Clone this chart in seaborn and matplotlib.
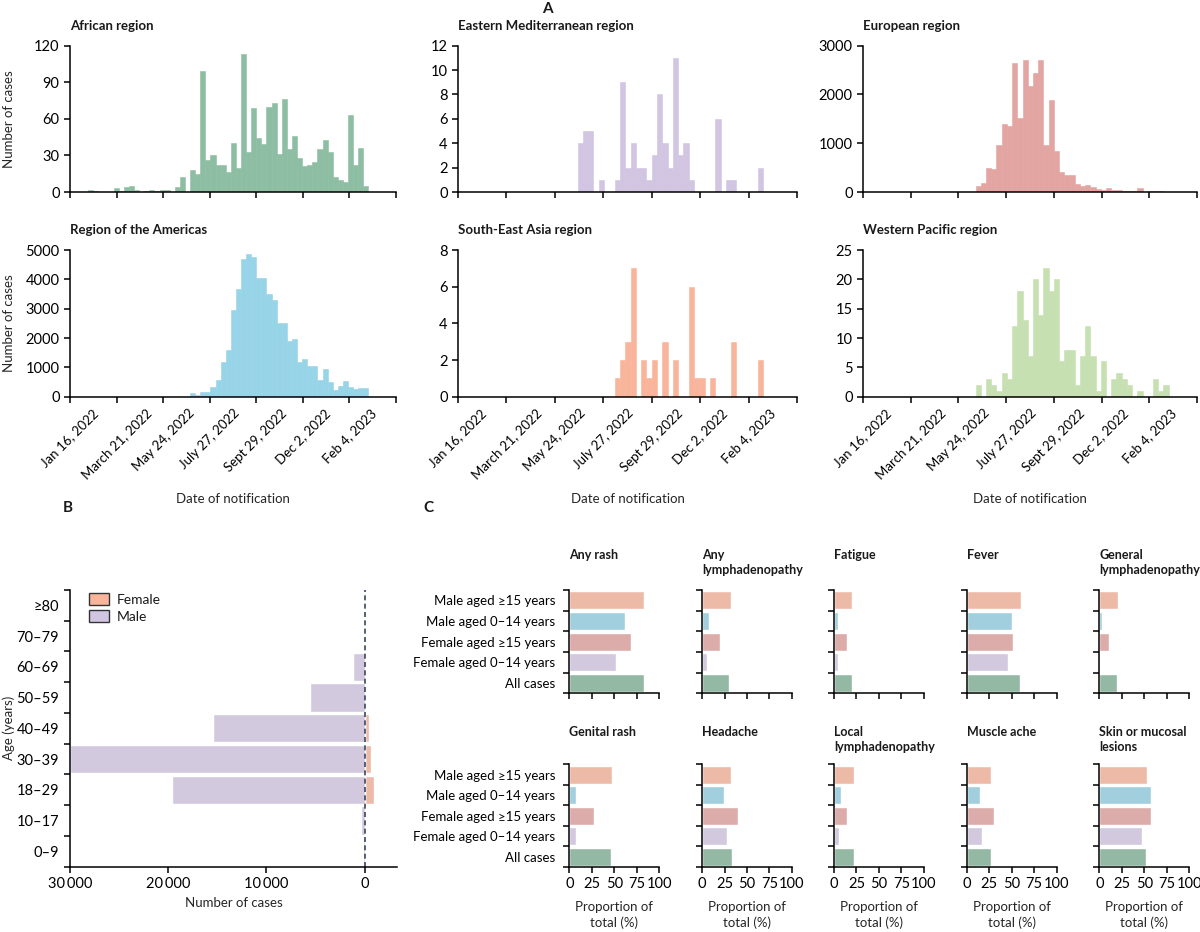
import numpy as np
import pandas as pd
import matplotlib
matplotlib.use('Agg')
import matplotlib.pyplot as plt
import matplotlib.dates as mdates
from matplotlib.patches import Patch
import seaborn as sns

# ---- panel A: weekly notifications per WHO region (week 0 starts 2022-01-20) ----
week0 = '2022-01-20'
african = [0, 0, 0, 2, 1, 0, 0, 0, 3, 1, 4, 5, 2, 0, 1, 2, 1, 2, 2, 0,
           4, 12, 0, 18, 15, 99, 26, 30, 22, 22, 16, 40, 20, 113, 33, 69, 44, 39, 70, 73,
           31, 76, 35, 46, 28, 21, 22, 25, 35, 43, 33, 12, 10, 8, 63, 22, 36, 5]
eastern_med = [0] * 22 + [4, 5, 5, 0, 1, 0, 0, 1, 9, 2, 4, 2, 2, 1, 3, 8, 4, 2,
                          11, 3, 4, 1, 0, 0, 0, 0, 6, 0, 1, 1, 0, 0, 0, 0, 2, 0]
european = [0] * 21 + [120, 185, 490, 470, 960, 1400, 1350, 2640, 1510, 2700, 2180, 2450,
                       2710, 960, 1880, 850, 400, 350, 340, 170, 115, 150, 95, 60, 48, 75,
                       40, 35, 27, 20, 14, 90, 7, 27, 20, 14, 7]
americas = [0] * 23 + [110, 70, 150, 170, 330, 560, 1170, 1590, 2965, 3660, 4680, 4875,
                       4750, 4030, 4030, 3490, 3280, 2510, 2510, 1910, 1980, 1170, 1270,
                       1045, 1045, 570, 930, 500, 240, 375, 520, 330, 270, 285, 300]
se_asia = [0] * 29 + [1, 2, 3, 7, 0, 2, 1, 2, 0, 3, 0, 2, 0, 0, 6, 1, 1, 0, 1, 0, 0,
                      0, 3, 0, 0, 0, 0, 2, 0]
w_pacific = [0] * 21 + [2, 0, 3, 2, 1, 4, 3, 12, 18, 13, 7, 20, 14, 22, 18, 20, 6, 8, 8,
                        2, 7, 12, 7, 1, 6, 0, 3, 4, 3, 2, 0, 1, 0, 0, 3, 1, 2]

region_names = ['African region', 'Eastern Mediterranean region', 'European region',
                'Region of the Americas', 'South-East Asia region', 'Western Pacific region']
region_yticks = [[0, 30, 60, 90, 120], [0, 2, 4, 6, 8, 10, 12], [0, 1000, 2000, 3000],
                 [0, 1000, 2000, 3000, 4000, 5000], [0, 2, 4, 6, 8], [0, 5, 10, 15, 20, 25]]
date_ticks = pd.date_range('2022-01-16', periods=8, freq='64D')
date_labels = ['Jan 16, 2022', 'March 21, 2022', 'May 24, 2022', 'July 27, 2022',
               'Sept 29, 2022', 'Dec 2, 2022', 'Feb 4, 2023', '']

# ---- panel B: age pyramid ----
ages = ['0–9', '10–17', '18–29', '30–39', '40–49', '50–59', '60–69', '70–79', '≥80']
male_cases = [170, 340, 19600, 30000, 15400, 5600, 1200, 100, 50]
female_cases = [170, 60, 950, 680, 400, 170, 50, 0, 0]

# ---- panel C: symptoms ----
groups = ['Male aged ≥15 years', 'Male aged 0–14 years', 'Female aged ≥15 years',
          'Female aged 0–14 years', 'All cases']
symptoms = ['Any rash', 'Any\nlymphadenopathy', 'Fatigue', 'Fever', 'General\nlymphadenopathy',
            'Genital rash', 'Headache', 'Local\nlymphadenopathy', 'Muscle ache',
            'Skin or mucosal\nlesions']
any_rash = [83, 62, 68, 51.5, 82.5]
any_lymph = [32, 8, 20.5, 5.5, 30.5]
fatigue = [20.5, 4.5, 14.5, 4, 20.5]
fever = [60, 50.5, 51.5, 45.5, 59.5]
general_lymph = [21, 2.5, 11, 1, 19.5]
genital_rash = [47.5, 7.5, 27, 7, 46.5]
headache = [32.5, 24.5, 40.5, 28, 33]
local_lymph = [22.5, 8, 15, 5.5, 22]
muscle_ache = [27, 14.5, 30, 17.5, 27]
skin_lesions = [52.5, 57, 57.5, 47, 52]
symptom_values = [any_rash, any_lymph, fatigue, fever, general_lymph,
                  genital_rash, headache, local_lymph, muscle_ache, skin_lesions]

green = '#8DBEA3'
lavender = '#D1C5E2'
rose = '#E3A5A2'
blue = '#97D4E8'
salmon = '#F9B59B'
lightgreen = '#C6E0B2'
region_colors = [green, lavender, rose, blue, salmon, lightgreen]
group_colors = [salmon, blue, rose, lavender, green]

sns.set_style('ticks')
plt.rcParams['font.family'] = ['Lato', 'DejaVu Sans']
plt.rcParams.update({'font.size': 9.5, 'axes.linewidth': 1.1,
                     'xtick.major.width': 1.1, 'ytick.major.width': 1.1,
                     'xtick.major.size': 4, 'ytick.major.size': 4,
                     'xtick.color': 'black', 'ytick.color': 'black',
                     'axes.edgecolor': 'black', 'text.color': '#1a1a1a'})
num_size = 10.5  # numeric tick labels look larger in the original

W, H = 1200, 932
fig = plt.figure(figsize=(12, 9.32), dpi=100)


def px_axes(left, top, right, bottom):
    return fig.add_axes([left / W, 1 - bottom / H, (right - left) / W, (bottom - top) / H])


def ftext(x, y, s, **kw):
    fig.text(x / W, 1 - y / H, s, **kw)


# panel A
col_x = [(70, 396), (458, 797), (863, 1197)]
row_y = [(45.7, 192), (250, 396.7)]
region_counts = [african, eastern_med, european, americas, se_asia, w_pacific]
x0 = mdates.date2num(pd.Timestamp('2022-01-16'))
x1 = mdates.date2num(pd.Timestamp('2023-04-09'))
for i, counts in enumerate(region_counts):
    r, c = divmod(i, 3)
    ax = px_axes(col_x[c][0], row_y[r][0], col_x[c][1], row_y[r][1])
    starts = mdates.date2num(pd.date_range(week0, periods=len(counts), freq='7D'))
    edges = [float(e) for e in np.append(starts, starts[-1] + 7)]
    week_df = pd.DataFrame({'day': starts + 3.5, 'cases': counts})
    sns.histplot(data=week_df, x='day', weights='cases', bins=edges, color=region_colors[i],
                 alpha=1, linewidth=0.4, edgecolor=region_colors[i], ax=ax)
    ax.set_xlim(x0, x1)
    ax.set_ylim(0, region_yticks[i][-1])
    ax.set_yticks(region_yticks[i])
    ax.tick_params(axis='y', labelsize=num_size)
    ax.set_xticks(mdates.date2num(date_ticks))
    if r == 1:
        ax.set_xticklabels(date_labels, rotation=45)
        ax.set_xlabel('Date of notification', labelpad=8)
    else:
        ax.set_xticklabels([])
        ax.set_xlabel('')
    ax.set_ylabel('Number of cases' if c == 0 else '')
    ax.yaxis.set_label_coords(-55 / (col_x[c][1] - col_x[c][0]), 0.5)
    sns.despine(ax=ax)
    ftext(col_x[c][0], 30 if r == 0 else 234, region_names[i], fontweight='bold',
          va='baseline', ha='left')

# panel B
ax = px_axes(70, 590, 397, 866.7)
df_b = pd.DataFrame({'age': ages * 2,
                     'sex': ['Male'] * len(ages) + ['Female'] * len(ages),
                     'cases': male_cases + [-v for v in female_cases]})
sns.barplot(data=df_b, y='age', x='cases', hue='sex', order=ages[::-1],
            hue_order=['Female', 'Male'], palette={'Female': salmon, 'Male': lavender},
            dodge=False, width=0.92, orient='h', errorbar=None, legend=False, ax=ax)
ax.axvline(0, color='#3b4660', lw=1.2, ls=(0, (3, 2)))
ax.set_xlim(30000, -3300)
ax.set_ylim(8.5, -0.5)
ax.set_xticks([30000, 20000, 10000, 0])
ax.set_xticklabels(['30\u2009000', '20\u2009000', '10\u2009000', '0'], fontsize=num_size)
ax.set_yticks(np.arange(-0.5, 9, 1))
ax.set_yticklabels([])
ax.set_yticks(range(9), minor=True)
ax.set_yticklabels(ages[::-1], minor=True, fontsize=num_size)
ax.tick_params(axis='y', which='minor', length=0, pad=8)
ax.set_xlabel('Number of cases', labelpad=4)
ax.set_ylabel('Age (years)')
ax.yaxis.set_label_coords(-55 / 327, 0.5)
sns.despine(ax=ax)
ax.legend(handles=[Patch(facecolor=salmon, edgecolor='#333333', label='Female'),
                   Patch(facecolor=lavender, edgecolor='#333333', label='Male')],
          loc='upper left', bbox_to_anchor=(0.04, 1.01), frameon=False, fontsize=10,
          handlelength=1.5, handleheight=1.0, handletextpad=0.5, labelspacing=0.3,
          borderaxespad=0)

# panel C
c_lefts = [569.3, 702, 834, 966.7, 1099.3]
c_rows = [(590, 693.3), (764.3, 867)]
title_tops = [549, 726]
for i, vals in enumerate(symptom_values):
    r, c = divmod(i, 5)
    ax = px_axes(c_lefts[c], c_rows[r][0], c_lefts[c] + 90, c_rows[r][1])
    sns.barplot(x=vals, y=groups, hue=groups, palette=group_colors, order=groups,
                width=0.88, orient='h', legend=False, ax=ax)
    ax.set_xlim(0, 100)
    ax.set_ylim(4.5, -0.5)
    ax.set_xticks([0, 25, 50, 75, 100])
    ax.tick_params(axis='x', labelsize=num_size)
    ax.set_yticks(np.arange(-0.5, 5, 1))
    ax.set_yticklabels([])
    ax.set_yticks(range(5), minor=True)
    ax.set_yticklabels(groups if c == 0 else [], minor=True)
    ax.tick_params(axis='y', which='minor', length=0, pad=10)
    if r == 1:
        ax.set_xlabel('Proportion of\ntotal (%)', labelpad=7, linespacing=1.35)
    else:
        ax.set_xticklabels([])
        ax.set_xlabel('')
    ax.set_ylabel('')
    sns.despine(ax=ax)
    ftext(c_lefts[c], title_tops[r], symptoms[i], fontweight='bold', va='top', ha='left',
          fontsize=9, linespacing=1.3)

# panel letters
ftext(547, 9, 'A', fontweight='bold', fontsize=11, va='center', ha='center')
ftext(68, 508, 'B', fontweight='bold', fontsize=11, va='center', ha='center')
ftext(428, 508, 'C', fontweight='bold', fontsize=11, va='center', ha='center')

fig.savefig('out.png', dpi=100)
